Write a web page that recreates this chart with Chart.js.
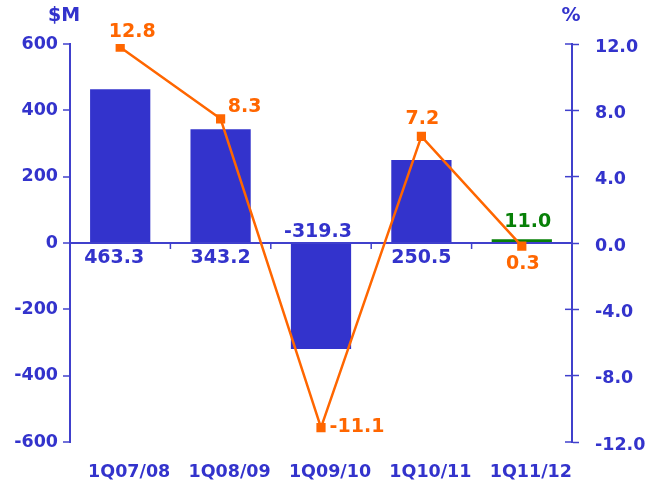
<!DOCTYPE html>
<html>
<head>
<meta charset="utf-8">
<script src="https://cdn.jsdelivr.net/npm/chart.js@4"></script>
<style>
  html, body { margin: 0; padding: 0; background: #ffffff; }
  canvas { display: block; }
</style>
</head>
<body>
<canvas id="c" width="650" height="485"></canvas>
<script>
// ---- data ----
const categories = ['1Q07/08', '1Q08/09', '1Q09/10', '1Q10/11', '1Q11/12'];
const barValues = [463.3, 343.2, -319.3, 250.5, 11.0];      // $M (left axis)
const barLabels = ['463.3', '343.2', '-319.3', '250.5', '11.0'];
const pctValues = [12.8, 8.3, -11.1, 7.2, 0.3];              // % line
const pctLabels = ['12.8', '8.3', '-11.1', '7.2', '0.3'];
const leftTicks = [-600, -400, -200, 0, 200, 400, 600];
const rightTicks = [-12, -8, -4, 0, 4, 8, 12];

// ---- styling ----
const BLUE = '#3333cc';
const AXIS = '#4040cc';
const ORANGE = '#ff6600';
const GREEN = '#078007';
const FONT = "'DejaVu Sans', Verdana, sans-serif";
const barColors = [BLUE, BLUE, BLUE, BLUE, GREEN];
const barLabelColors = [BLUE, BLUE, BLUE, BLUE, GREEN];
const barLabelPlace = ['belowZero', 'belowZero', 'aboveZero', 'belowZero', 'aboveBar'];
const barLabelDx = [-6, 0, -3, 0, 6];
const lineLabelOffset = [[12, -15], [24, -12], [36, -1], [1, -17], [1, 18]];

const decorPlugin = {
  id: 'decor',
  afterDatasetsDraw(chart) {
    const ctx = chart.ctx;
    const x = chart.scales.x, y = chart.scales.y, y1 = chart.scales.y1;
    const zeroY = y.getPixelForValue(0);
    ctx.save();
    ctx.strokeStyle = AXIS;
    ctx.lineWidth = 1.5;
    for (let i = 0; i < categories.length - 1; i++) {
      const px = (x.getPixelForValue(i) + x.getPixelForValue(i + 1)) / 2;
      ctx.beginPath();
      ctx.moveTo(px, zeroY);
      ctx.lineTo(px, zeroY + 6);
      ctx.stroke();
    }
    rightTicks.forEach(v => {
      const py = y1.getPixelForValue(v);
      ctx.beginPath();
      ctx.moveTo(y1.left - 7, py);
      ctx.lineTo(y1.left, py);
      ctx.stroke();
    });
    ctx.restore();
  },
  afterDraw(chart) {
    const ctx = chart.ctx;
    ctx.save();
    ctx.textAlign = 'center';
    ctx.textBaseline = 'middle';
    ctx.font = 'bold 19px ' + FONT;
    ctx.fillStyle = BLUE;
    ctx.fillText('$M', 64, 16);
    ctx.fillText('%', 571, 16);
    const barMeta = chart.getDatasetMeta(1);
    ctx.font = 'bold 19px ' + FONT;
    barMeta.data.forEach((el, i) => {
      let ty;
      if (barLabelPlace[i] === 'belowZero') ty = el.base + 16;
      else if (barLabelPlace[i] === 'aboveZero') ty = el.base - 12;
      else ty = el.y - 17;
      ctx.fillStyle = barLabelColors[i];
      ctx.fillText(barLabels[i], el.x + barLabelDx[i], ty);
    });
    const lineMeta = chart.getDatasetMeta(0);
    ctx.fillStyle = ORANGE;
    lineMeta.data.forEach((el, i) => {
      const o = lineLabelOffset[i];
      ctx.fillText(pctLabels[i], el.x + o[0], el.y + o[1]);
    });
    ctx.restore();
  }
};

new Chart(document.getElementById('c'), {
  data: {
    labels: categories,
    datasets: [
      {
        type: 'line',
        data: pctValues,
        yAxisID: 'y2',
        borderColor: ORANGE,
        borderWidth: 2.5,
        tension: 0,
        pointStyle: 'rect',
        pointRadius: 6.5,
        pointBackgroundColor: ORANGE,
        pointBorderWidth: 0,
        order: 0
      },
      {
        type: 'bar',
        data: barValues,
        yAxisID: 'y',
        backgroundColor: barColors,
        borderWidth: 0,
        barPercentage: 0.6,
        categoryPercentage: 1.0,
        order: 1
      }
    ]
  },
  options: {
    responsive: false,
    animation: false,
    layout: { padding: { top: 44, left: 0, right: 0, bottom: 0 } },
    plugins: { legend: { display: false }, tooltip: { enabled: false } },
    scales: {
      x: {
        type: 'category',
        offset: true,
        grid: { display: false, drawTicks: false },
        border: { display: false },
        ticks: {
          color: BLUE,
          font: { family: FONT, size: 17.5, weight: 'bold' },
          padding: 20,
          labelOffset: 9,
          maxRotation: 0,
          autoSkip: false
        },
        afterFit(s) { s.height = 43; }
      },
      y: {
        position: 'left',
        min: -600, max: 600,
        afterBuildTicks(s) { s.ticks = leftTicks.map(v => ({ value: v })); },
        grid: {
          drawOnChartArea: true,
          color: c => (c.tick && c.tick.value === 0) ? AXIS : 'rgba(0,0,0,0)',
          lineWidth: 2,
          tickColor: AXIS,
          tickLength: 7,
          tickWidth: 1.5
        },
        border: { display: true, color: AXIS, width: 2 },
        ticks: {
          color: BLUE,
          font: { family: FONT, size: 17.5, weight: 'bold' },
          padding: 5
        },
        afterFit(s) { s.width = 70; }
      },
      y1: {
        position: 'right',
        min: -12, max: 12,
        afterBuildTicks(s) { s.ticks = rightTicks.map(v => ({ value: v })); },
        grid: {
          drawOnChartArea: false,
          tickColor: AXIS,
          tickLength: 7,
          tickWidth: 1.5
        },
        border: { display: true, color: AXIS, width: 2 },
        ticks: {
          color: BLUE,
          font: { family: FONT, size: 17.5, weight: 'bold' },
          padding: 16,
          labelOffset: 3,
          callback: v => v.toFixed(1)
        },
        afterFit(s) { s.width = 78; }
      },
      y2: {
        display: false,
        min: -12, max: 13
      }
    }
  },
  plugins: [decorPlugin]
});
</script>
</body>
</html>
